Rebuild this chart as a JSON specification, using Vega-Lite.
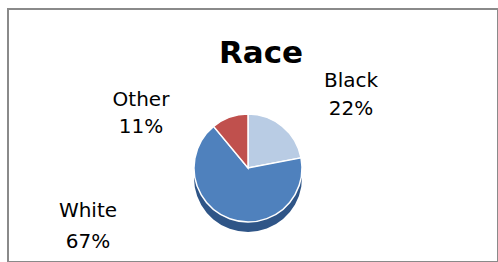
{
  "$schema": "https://vega.github.io/schema/vega-lite/v6.json",
  "autosize": "none",
  "width": 490,
  "height": 253,
  "padding": {"left": 8, "top": 9, "right": 0, "bottom": 0},
  "background": "white",
  "view": {"stroke": "#8a8a8a", "strokeWidth": 2},
  "config": {
    "view": {"stroke": "#8a8a8a", "strokeWidth": 2},
    "font": "DejaVu Sans"
  },
  "title": {
    "text": "Race",
    "font": "DejaVu Sans",
    "fontSize": 31,
    "fontWeight": "bold",
    "color": "#000000",
    "anchor": "middle",
    "baseline": "alphabetic",
    "offset": -85,
    "dx": 8
  },
  "data": {
    "values": [
      {"race": "Black", "pct": 22, "ord": 1, "label": "Black\n22%"},
      {"race": "White", "pct": 67, "ord": 2, "label": "White\n67%"},
      {"race": "Other", "pct": 11, "ord": 3, "label": "Other\n11%"}
    ]
  },
  "layer": [
    {
      "mark": {"type": "arc", "outerRadius": 54, "xOffset": -5, "yOffset": 42.5},
      "encoding": {
        "theta": {"field": "pct", "type": "quantitative", "stack": true},
        "order": {"field": "ord", "type": "quantitative"},
        "color": {
          "field": "race",
          "type": "nominal",
          "scale": {"domain": ["Black", "White", "Other"], "range": ["#505a66", "#2f5587", "#7a2a28"]},
          "legend": null
        }
      }
    },
    {
      "mark": {"type": "arc", "outerRadius": 54, "xOffset": -5, "yOffset": 32.5, "stroke": "white", "strokeWidth": 1.5},
      "encoding": {
        "theta": {"field": "pct", "type": "quantitative", "stack": true},
        "order": {"field": "ord", "type": "quantitative"},
        "color": {
          "field": "race",
          "type": "nominal",
          "scale": {"domain": ["Black", "White", "Other"], "range": ["#b9cce4", "#4f81bd", "#c0504d"]},
          "legend": null
        }
      }
    },
    {
      "transform": [{"filter": "datum.race === 'Black'"}],
      "mark": {"type": "text", "lineBreak": "\n", "lineHeight": 28, "align": "center", "baseline": "alphabetic", "fontSize": 20, "font": "DejaVu Sans", "color": "#000000", "dx": 98, "dy": -48.5},
      "encoding": {"text": {"field": "label"}}
    },
    {
      "transform": [{"filter": "datum.race === 'Other'"}],
      "mark": {"type": "text", "lineBreak": "\n", "lineHeight": 27, "align": "center", "baseline": "alphabetic", "fontSize": 20, "font": "DejaVu Sans", "color": "#000000", "dx": -112, "dy": -29.5},
      "encoding": {"text": {"field": "label"}}
    },
    {
      "transform": [{"filter": "datum.race === 'White'"}],
      "mark": {"type": "text", "lineBreak": "\n", "lineHeight": 31, "align": "center", "baseline": "alphabetic", "fontSize": 20, "font": "DejaVu Sans", "color": "#000000", "dx": -165, "dy": 81.5},
      "encoding": {"text": {"field": "label"}}
    }
  ],
  "resolve": {"scale": {"color": "independent"}}
}
